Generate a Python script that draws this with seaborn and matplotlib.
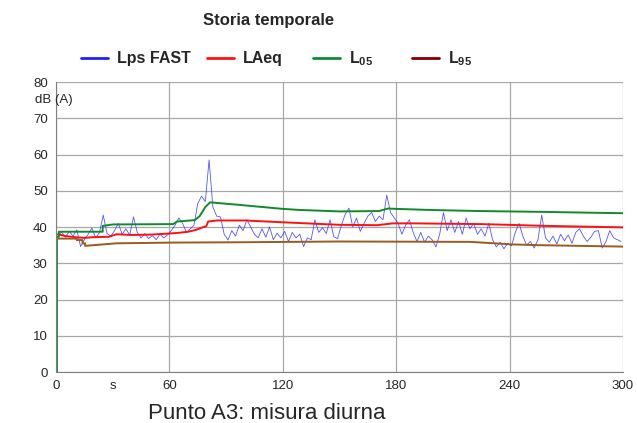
import matplotlib
matplotlib.use('Agg')
import matplotlib.pyplot as plt
from matplotlib.lines import Line2D
import seaborn as sns

# Lps FAST, one reading every 2 s
time_fast = list(range(1, 300, 2))
lps_fast = [
    37.8, 38.5, 37.2, 38.8, 37.5, 39.2, 34.6, 36.5, 38.0, 39.7,
    37.0, 38.5, 43.3, 38.2, 37.5, 39.0, 41.0, 38.0, 39.5, 37.8,
    42.8, 38.5, 37.0, 38.2, 36.8, 37.6, 36.5, 38.0, 37.0, 37.8,
    39.0, 40.5, 42.5, 41.0, 38.5, 39.5, 40.5, 46.5, 48.5, 47.0,
    58.5, 45.5, 43.0, 42.8, 38.0, 36.4, 39.0, 37.5, 40.5, 39.0,
    42.0, 40.0, 38.0, 37.0, 39.5, 37.2, 40.0, 36.5, 38.3, 37.0,
    38.8, 36.0, 38.5, 37.0, 38.0, 34.6, 37.0, 36.5, 42.0, 38.5,
    39.8, 38.2, 42.0, 37.3, 36.8, 40.5, 43.5, 45.2, 40.0, 42.5,
    38.8, 41.0, 43.0, 44.0, 41.5, 43.0, 42.0, 48.8, 44.0, 42.5,
    41.0, 38.0, 40.5, 42.0, 38.5, 36.0, 38.5, 35.8, 37.5, 36.5,
    34.5, 38.0, 44.0, 39.0, 42.0, 38.5, 41.5, 38.0, 42.5, 39.5,
    41.0, 38.0, 39.5, 37.5, 41.0, 36.5, 34.5, 35.8, 34.0, 35.5,
    34.8, 38.5, 41.0, 37.5, 35.0, 36.0, 34.2, 36.5, 43.3, 37.0,
    35.8, 37.5, 35.3, 38.0, 36.2, 37.8, 35.5, 38.5, 39.5, 37.5,
    36.0, 37.2, 38.8, 39.0, 34.2, 36.0, 39.0, 37.0, 36.5, 36.0,
]

# LAeq (running)
leq_time = [1, 5, 10, 15, 20, 28, 32, 40, 50, 60, 65, 70, 74, 77, 79.5,
            80.5, 85, 100, 120, 150, 170, 178, 190, 225, 260, 300]
leq = [38.0, 37.5, 37.2, 37.0, 37.2, 37.3, 38.0, 37.8, 37.9, 38.2, 38.4,
       38.7, 39.2, 39.8, 40.2, 41.5, 41.8, 41.8, 41.3, 40.6, 40.5, 41.0,
       41.0, 40.8, 40.3, 39.9]

# L05
l05_time = [0.5, 0.5, 1.5, 1.5, 24.7, 24.7, 30, 62, 64, 73.5, 76, 79, 81.5,
            97, 120, 129, 150, 171, 175.7, 180, 198, 224, 254, 300]
l05 = [0.0, 37.3, 37.3, 38.7, 38.7, 40.3, 40.7, 40.8, 41.5, 41.9, 43.0,
       45.5, 46.8, 46.1, 45.0, 44.7, 44.3, 44.4, 45.1, 45.0, 44.7, 44.4,
       44.2, 43.8]

# L95
l95_time = [1, 11, 11, 14, 14, 15.4, 15.4, 32, 62, 100, 150, 219, 232, 241,
            254, 300]
l95 = [36.8, 36.8, 36.4, 36.4, 35.5, 35.5, 34.8, 35.5, 35.7, 35.8, 36.0,
       35.9, 35.5, 35.2, 35.0, 34.6]

x_ticks = [0, 60, 120, 180, 240, 300]
y_ticks = [0, 10, 20, 30, 40, 50, 60, 70, 80]

sns.set_style('white')
plt.rcParams['font.family'] = ['Liberation Sans', 'DejaVu Sans']
plt.rcParams['mathtext.fontset'] = 'custom'
plt.rcParams['mathtext.bf'] = 'Liberation Sans:bold'
plt.rcParams['mathtext.rm'] = 'Liberation Sans'

fig = plt.figure(figsize=(6.37, 4.23), dpi=100)
ax = fig.add_axes([56 / 637, 51 / 423, 567 / 637, 290 / 423])

sns.lineplot(x=time_fast, y=lps_fast, ax=ax, color='#2a2aff', linewidth=0.6,
             alpha=0.8, estimator=None, sort=False)
sns.lineplot(x=leq_time, y=leq, ax=ax, color='#ff1010', linewidth=1.4,
             estimator=None, sort=False)
sns.lineplot(x=l05_time, y=l05, ax=ax, color='#108a2a', linewidth=1.4,
             estimator=None, sort=False)
sns.lineplot(x=l95_time, y=l95, ax=ax, color='#9c5a1c', linewidth=1.4,
             estimator=None, sort=False)

ax.set_xlim(0, 300)
ax.set_ylim(0, 80)
ax.set_xticks(x_ticks)
ax.set_xticks([30], ['s'], minor=True)
ax.set_yticks(y_ticks)
ax.grid(True, color='#a8a8a8', linewidth=0.9)
ax.tick_params(axis='both', which='major', length=4, color='#707070',
               labelsize=9.5, pad=2)
ax.tick_params(axis='x', which='minor', length=0, labelsize=9.5, pad=6)
for side in ['top', 'right']:
    ax.spines[side].set_visible(False)
for side in ['left', 'bottom']:
    ax.spines[side].set_color('#808080')
ax.set_xlabel('')
ax.set_ylabel('')
ax.text(-0.004, 75, 'dB (A)', transform=ax.get_yaxis_transform(),
        ha='center', va='center', fontsize=9.5)

# legend: one entry per block, spaced like the reference
legend_colors = ['#2020ff', '#ff1010', '#108a3a', '#800000']
legend_labels = ['Lps FAST', 'LAeq', r'L$_{\mathbf{05}}$', r'L$_{\mathbf{95}}$']
legend_x = [81, 207, 313, 412]
for col, lab, x0 in zip(legend_colors, legend_labels, legend_x):
    fig.legend([Line2D([], [], color=col, linewidth=2)], [lab],
               loc='center left', bbox_to_anchor=(x0 / 637, 1 - 59 / 423),
               frameon=False, borderpad=0, borderaxespad=0,
               handlelength=1.7, handletextpad=0.55,
               prop={'weight': 'bold', 'size': 11.5})

fig.text(269 / 637, 1 - 21 / 423, 'Storia temporale', ha='center', va='center',
         fontweight='bold', fontsize=12)
fig.text(267 / 637, 4 / 423, 'Punto A3: misura diurna', ha='center',
         va='baseline', fontsize=16)

fig.savefig('out.png', dpi=100)
